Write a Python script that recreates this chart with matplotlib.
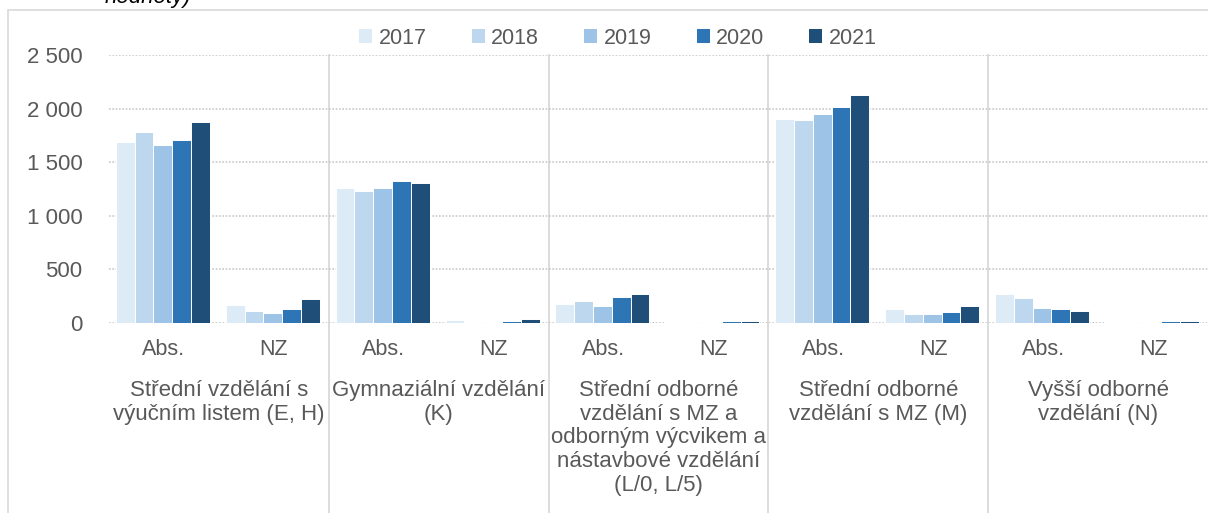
import matplotlib
matplotlib.use('Agg')
import matplotlib.pyplot as plt
import numpy as np
from matplotlib.patches import Patch, Rectangle
from matplotlib.ticker import FuncFormatter

plt.rcParams['font.family'] = ['Liberation Sans', 'DejaVu Sans']

years = ['2017', '2018', '2019', '2020', '2021']
colors = ['#DDEBF7', '#BDD7EE', '#9DC3E6', '#2E75B6', '#1F4E79']
sub_labels = ['Abs.', 'NZ']
categories = ['Střední vzdělání s\nvýučním listem (E, H)',
              'Gymnaziální vzdělání\n(K)',
              'Střední odborné\nvzdělání s MZ a\nodborným výcvikem a\nnástavbové vzdělání\n(L/0, L/5)',
              'Střední odborné\nvzdělání s MZ (M)',
              'Vyšší odborné\nvzdělání (N)']

# values per year: Abs./NZ pairs for each category
v2017 = [1690, 165, 1260, 25, 177, 10, 1907, 128, 271, 8]
v2018 = [1785, 112, 1230, 12, 209, 12, 1891, 85, 237, 12]
v2019 = [1660, 97, 1260, 12, 162, 12, 1954, 85, 144, 12]
v2020 = [1705, 128, 1322, 15, 240, 15, 2019, 100, 128, 15]
v2021 = [1878, 224, 1310, 40, 271, 15, 2128, 162, 112, 15]
series = [v2017, v2018, v2019, v2020, v2021]

W, H = 1208, 513
fig = plt.figure(figsize=(W / 100, H / 100), dpi=100)

# chart frame (cut off at right/bottom)
fig.add_artist(Rectangle((8 / W, -0.5), 2.0, 1 - 10 / H + 0.5, transform=fig.transFigure,
                         fill=False, edgecolor='#d9d9d9', linewidth=1.2))

# cut-off title fragment
fig.text(105 / W, 1 - 2.5 / H, 'hodnoty)', fontsize=16, style='italic', color='black',
         va='baseline', ha='left')

ax = fig.add_axes([109 / W, (H - 323) / H, 1099 / W, 268 / H])

x = np.arange(len(v2017)) + 0.5
bw = 0.171
for i, (vals, c, yr) in enumerate(zip(series, colors, years)):
    ax.bar(x + (i - 2) * bw - 0.01, vals, width=bw, color=c, edgecolor='white', linewidth=0.7,
           label=yr, zorder=3)

ax.set_xlim(0, 10)
ax.set_ylim(0, 2500)
ax.set_yticks(np.arange(0, 2501, 500))
ax.yaxis.set_major_formatter(FuncFormatter(lambda v, p: f'{int(v):,}'.replace(',', ' ')))
ax.tick_params(axis='y', length=0, pad=19, labelsize=16, labelcolor='#595959')
ax.set_xticks([])
ax.yaxis.grid(True, linestyle=(0, (1, 1)), color='#c8c8c8', linewidth=1.2, zorder=0)
for s in ax.spines.values():
    s.set_visible(False)

tr = ax.get_xaxis_transform()
for k in range(1, 5):
    ax.plot([2 * k, 2 * k], [1.0, -0.72], transform=tr, color='#d9d9d9', linewidth=1.3,
            clip_on=False, zorder=1)

for i in range(len(v2017)):
    ax.text(x[i], -0.1, sub_labels[i % 2], transform=tr, ha='center', va='center',
            fontsize=15.5, color='#595959')
for j, cat in enumerate(categories):
    ax.text(2 * j + 1, -0.212, cat, transform=tr, ha='center', va='top',
            fontsize=16, color='#595959', linespacing=1.17)

handles = [Patch(facecolor=c, edgecolor='none', label=y) for c, y in zip(colors, years)]
fig.legend(handles=handles, loc='center', bbox_to_anchor=(618 / W, 1 - 38 / H), ncol=5,
           frameon=False, fontsize=15.5, labelcolor='#595959', handlelength=0.6,
           handleheight=0.6, handletextpad=0.3, columnspacing=2.1)

fig.savefig('out.png', dpi=100)
